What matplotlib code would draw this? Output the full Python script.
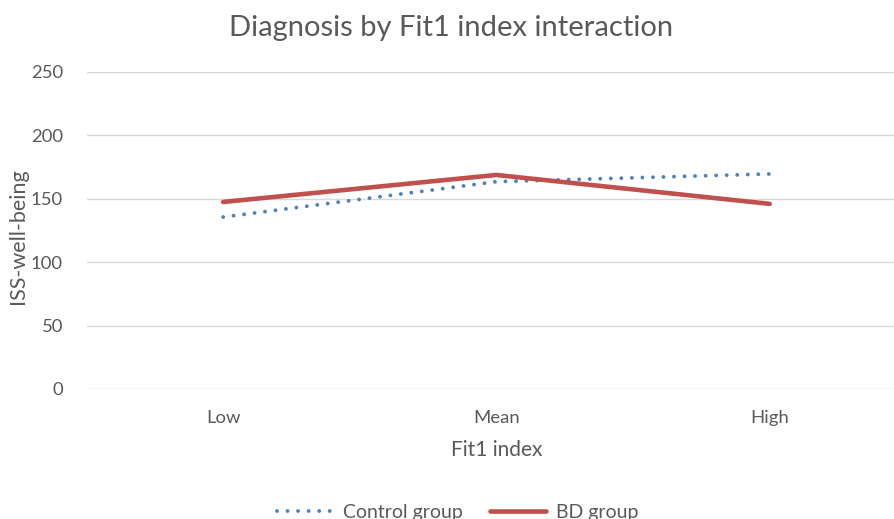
import matplotlib
matplotlib.use('Agg')
import matplotlib.pyplot as plt

categories = ['Low', 'Mean', 'High']
control_group = [135.6, 163.5, 169.6]
bd_group = [147.5, 168.8, 146.0]
y_ticks = [0, 50, 100, 150, 200, 250]

plt.rcParams['font.family'] = ['Lato', 'DejaVu Sans']
grey = '#595959'

fig = plt.figure(figsize=(8.94, 5.19), dpi=100)
ax = fig.add_axes([0.0968, 0.2505, 0.917, 0.6108])

x = range(len(categories))
ax.plot(x, control_group, color='#4F81BD', lw=2.8, linestyle=(0, (0.01, 2.7)),
        dash_capstyle='round', solid_capstyle='round', label='Control group')
ax.plot(x, bd_group, color='#C0504D', lw=3.3, solid_capstyle='round', label='BD group')

ax.set_xlim(-0.5, 2.5)
ax.set_ylim(0, 250)
ax.set_yticks(y_ticks)
ax.set_xticks(list(x))
ax.set_xticklabels(categories)
ax.grid(axis='y', color='#d9d9d9', lw=1)
ax.set_axisbelow(True)
for s in ax.spines.values():
    s.set_visible(False)
ax.tick_params(length=0, colors=grey, labelsize=13.3)
ax.tick_params(axis='x', pad=15)
ax.tick_params(axis='y', pad=17)

ax.set_xlabel('Fit1 index', color=grey, fontsize=15, labelpad=10)
ax.set_ylabel('ISS-well-being', color=grey, fontsize=15.5)
ax.yaxis.set_label_coords(-0.072, 0.483)
fig.text(0.505, 0.947, 'Diagnosis by Fit1 index interaction', ha='center', va='center',
         color=grey, fontsize=21)

leg = fig.legend(loc='center', bbox_to_anchor=(0.512, 0.012), ncol=2, frameon=False,
                 fontsize=14, handlelength=2.9, columnspacing=1.4, handletextpad=0.5)
for t in leg.get_texts():
    t.set_color(grey)

fig.savefig('out.png', dpi=100)
